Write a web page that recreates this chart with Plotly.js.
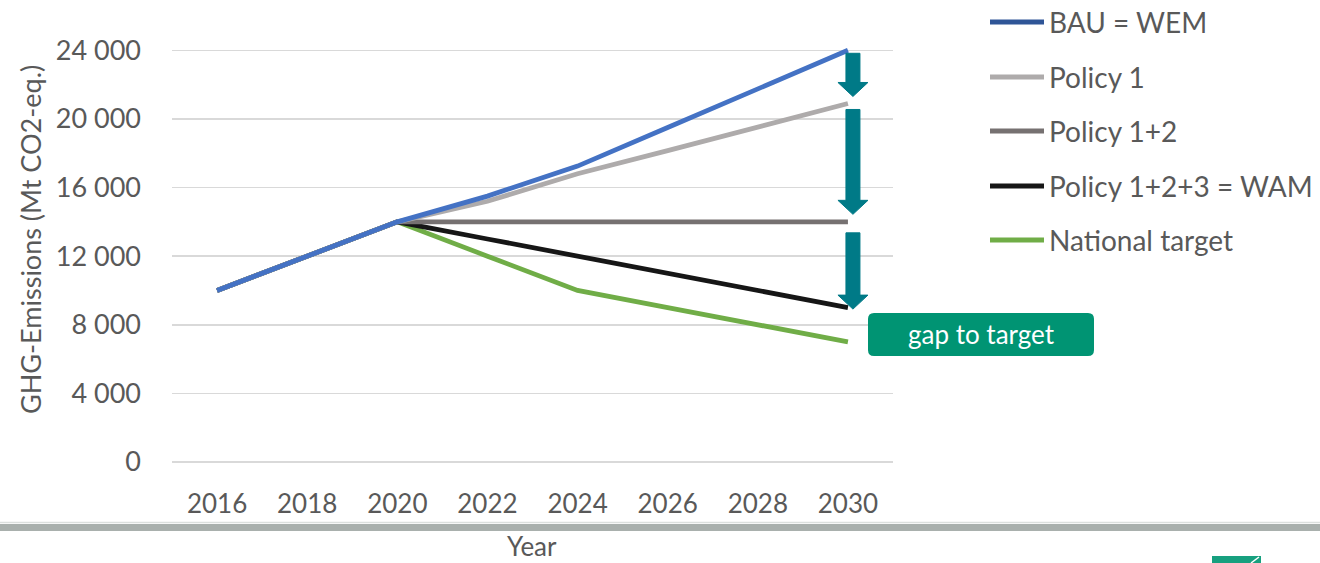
<!DOCTYPE html>
<html>
<head>
<meta charset="utf-8">
<script src="https://cdn.plot.ly/plotly-3.0.1.min.js"></script>
<style>
  html, body { margin: 0; padding: 0; background: #ffffff; }
  #chart { width: 1320px; height: 563px; }
</style>
</head>
<body>
<div id="chart"></div>
<script>
// ---- data ----
const years = [2016, 2018, 2020, 2022, 2024, 2026, 2028, 2030];
const yearLabels = ["2016", "2018", "2020", "2022", "2024", "2026", "2028", "2030"];
const seriesNames = ["BAU = WEM", "Policy 1", "Policy 1+2", "Policy 1+2+3 = WAM", "National target"];
const bau      = [10000, 12000, 14000, 15500, 17250, 19500, 21750, 24000];
const policy1  = [10000, 12000, 14000, 15200, 16800, 18150, 19500, 20900];
const policy12 = [10000, 12000, 14000, 14000, 14000, 14000, 14000, 14000];
const wam      = [10000, 12000, 14000, 13000, 12000, 11000, 10000, 9000];
const target   = [10000, 12000, 14000, 12000, 10000, 9000, 8000, 7000];
const yTickVals = [0, 4000, 8000, 12000, 16000, 20000, 24000];
const yTickText = ["0", "4 000", "8 000", "12 000", "16 000", "20 000", "24 000"];
const gapLabel = "gap to target";
const yTitle = "GHG-Emissions (Mt CO2-eq.)";
const xTitle = "Year";

// ---- styles ----
const FONT = 'Lato, "Open Sans", sans-serif';
const TXT = '#595959';
const lineColors = ['#4472C4', '#AEABAB', '#767171', '#161616', '#70AD47'];
const legendColors = ['#2F5597', '#AEABAB', '#767171', '#161616', '#70AD47'];
const seriesData = [bau, policy1, policy12, wam, target];

// plot area geometry (pixels)
const W = 1320, H = 563;
const L = 172, R = 893, T = 40, B = 462;
const pw = R - L, ph = B - T;
const px = p => (p - L) / pw;
const py = p => (B - p) / ph;

// traces: draw in reverse so BAU is on top
const traces = [];
for (let i = seriesData.length - 1; i >= 0; i--) {
  traces.push({
    type: 'scatter', mode: 'lines',
    x: years, y: seriesData[i], name: seriesNames[i],
    line: { color: lineColors[i], width: 4.8 },
    showlegend: false, hoverinfo: 'x+y+name'
  });
}

const shapes = [];
const annotations = [];

// arrows between 2030 values (data coordinates)
const last = a => a[a.length - 1];
const xEnd = last(years);
const pxPerYear = pw / 16;
const unitsPerPx = 24600 / ph;
const xc = xEnd + 5 / pxPerYear;
const sh = 7 / pxPerYear, hh = 15 / pxPerYear;
const arrowDefs = [
  { from: last(bau),      to: last(policy1),  topOff: 3,  tipOff: 7 },
  { from: last(policy1),  to: last(policy12), topOff: 6,  tipOff: 7.5 },
  { from: last(policy12), to: last(wam),      topOff: 11, tipOff: -1.5 }
];
const headH = 14 * unitsPerPx;
arrowDefs.forEach(a => {
  const yTop = a.from - a.topOff * unitsPerPx;
  const yTip = a.to + a.tipOff * unitsPerPx;
  const yBase = yTip + headH;
  const path = `M${xc - sh},${yTop} L${xc + sh},${yTop} L${xc + sh},${yBase} L${xc + hh},${yBase} L${xc},${yTip} L${xc - hh},${yBase} L${xc - sh},${yBase} Z`;
  shapes.push({ type: 'path', xref: 'x', yref: 'y', path: path,
    fillcolor: '#007A87', line: { color: '#007A87', width: 1 }, layer: 'above' });
});

// rounded gap box (paper coordinates)
function roundRect(x0p, y0p, x1p, y1p, r) {
  const X0 = px(x0p), X1 = px(x1p), Y0 = py(y1p), Y1 = py(y0p);
  const rx = r / pw, ry = r / ph;
  return `M${X0 + rx},${Y1} L${X1 - rx},${Y1} Q${X1},${Y1} ${X1},${Y1 - ry} L${X1},${Y0 + ry} Q${X1},${Y0} ${X1 - rx},${Y0} L${X0 + rx},${Y0} Q${X0},${Y0} ${X0},${Y0 + ry} L${X0},${Y1 - ry} Q${X0},${Y1} ${X0 + rx},${Y1} Z`;
}
shapes.push({ type: 'path', xref: 'paper', yref: 'paper', path: roundRect(868, 313, 1094, 356, 6),
  fillcolor: '#009473', line: { width: 0 }, layer: 'above' });
annotations.push({ xref: 'paper', yref: 'paper', x: px(981), y: py(334), text: gapLabel,
  showarrow: false, xanchor: 'center', yanchor: 'middle',
  font: { family: FONT, size: 26, color: '#ffffff' } });

// custom legend
const legRows = [22, 77, 131, 186, 240];
seriesNames.forEach((n, i) => {
  shapes.push({ type: 'line', xref: 'paper', yref: 'paper',
    x0: px(990), x1: px(1044), y0: py(legRows[i]), y1: py(legRows[i]),
    line: { color: legendColors[i], width: 4.8 } });
  annotations.push({ xref: 'paper', yref: 'paper', x: px(1047), y: py(legRows[i]), text: n,
    showarrow: false, xanchor: 'left', yanchor: 'middle',
    font: { family: FONT, size: 28, color: TXT } });
});

// axis titles
annotations.push({ xref: 'paper', yref: 'paper', x: px(30), y: py(240), text: yTitle,
  showarrow: false, textangle: -90, xanchor: 'center', yanchor: 'middle',
  font: { family: FONT, size: 27, color: TXT } });
annotations.push({ xref: 'paper', yref: 'paper', x: px(532), y: py(564), text: xTitle,
  showarrow: false, xanchor: 'center', yanchor: 'bottom',
  font: { family: FONT, size: 26, color: TXT } });

// gray band at bottom
shapes.push({ type: 'rect', xref: 'paper', yref: 'paper',
  x0: px(-5), x1: px(W + 5), y0: py(531), y1: py(524),
  fillcolor: '#A9B0AD', line: { width: 0 }, layer: 'above' });
shapes.push({ type: 'line', xref: 'paper', yref: 'paper',
  x0: px(-5), x1: px(W + 5), y0: py(522.5), y1: py(522.5),
  line: { color: '#DCE0DE', width: 1.5 } });
// logo fragment bottom-right
shapes.push({ type: 'rect', xref: 'paper', yref: 'paper',
  x0: px(1212), x1: px(1261), y0: py(566), y1: py(556),
  fillcolor: '#17A07F', line: { width: 0 }, layer: 'above' });
shapes.push({ type: 'line', xref: 'paper', yref: 'paper',
  x0: px(1251), x1: px(1259), y0: py(563), y1: py(557),
  line: { color: '#ffffff', width: 1.5 } });

const layout = {
  width: W, height: H,
  margin: { l: L, r: W - R, t: T, b: H - B, pad: 0 },
  paper_bgcolor: '#ffffff', plot_bgcolor: '#ffffff',
  showlegend: false,
  font: { family: FONT, size: 26, color: TXT },
  xaxis: {
    range: [2015, 2031], tickvals: years, ticktext: yearLabels,
    showgrid: false, zeroline: false, showline: false, ticks: '',
    ticklabelstandoff: 24,
    tickfont: { family: FONT, size: 26, color: TXT }, fixedrange: true
  },
  yaxis: {
    range: [0, 24600], tickvals: yTickVals, ticktext: yTickText,
    showgrid: true, gridcolor: '#D9D9D9', gridwidth: 1.5,
    zeroline: true, zerolinecolor: '#D9D9D9', zerolinewidth: 1.5,
    showline: false, ticks: '', ticklabelstandoff: 30,
    tickfont: { family: FONT, size: 27, color: TXT }, fixedrange: true
  },
  shapes: shapes,
  annotations: annotations
};

Plotly.newPlot('chart', traces, layout, { displayModeBar: false, staticPlot: true });
</script>
</body>
</html>
